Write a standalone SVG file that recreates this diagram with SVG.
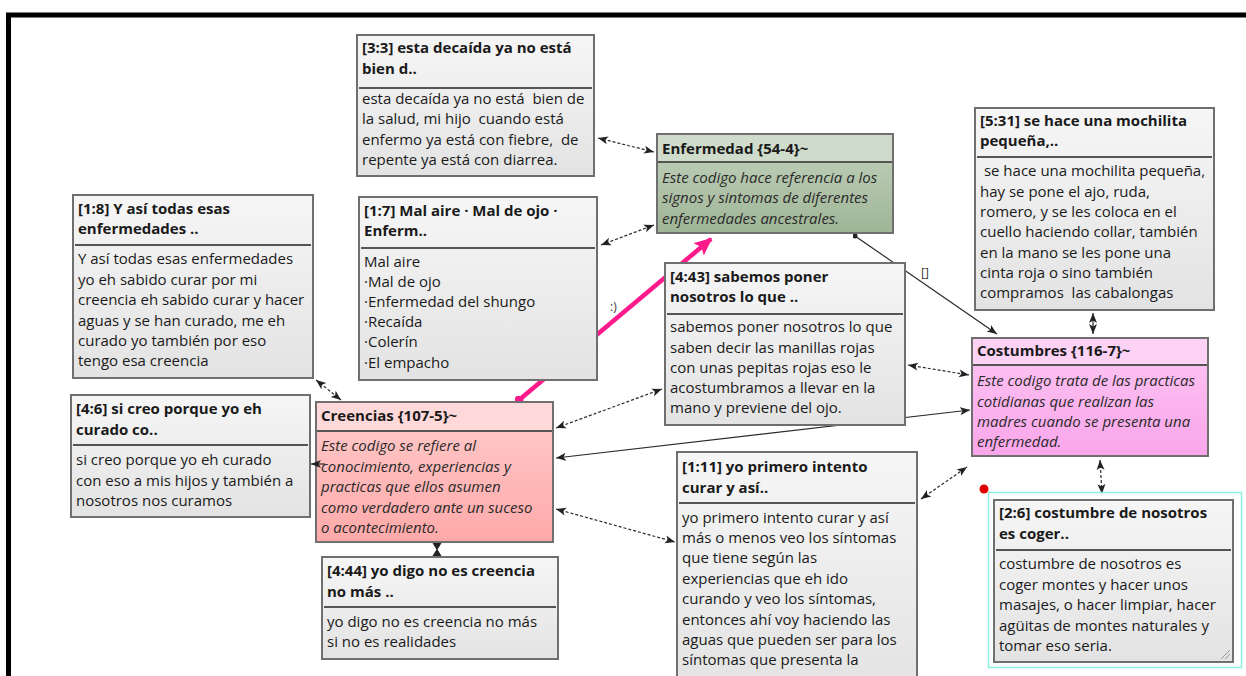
<svg xmlns="http://www.w3.org/2000/svg" width="1246" height="676" viewBox="0 0 1246 676" xml:space="preserve">
<defs>
<linearGradient id="gGray" x1="0" y1="0" x2="0" y2="1"><stop offset="0" stop-color="#f6f6f6"/><stop offset="1" stop-color="#e3e3e3"/></linearGradient>
<linearGradient id="gGreenB" x1="0" y1="0" x2="0" y2="1"><stop offset="0" stop-color="#c4d3bf"/><stop offset="1" stop-color="#9fb596"/></linearGradient>
<linearGradient id="gPinkB" x1="0" y1="0" x2="0" y2="1"><stop offset="0" stop-color="#ffcccc"/><stop offset="1" stop-color="#ffa9a9"/></linearGradient>
<linearGradient id="gMagB" x1="0" y1="0" x2="0" y2="1"><stop offset="0" stop-color="#fdc6f3"/><stop offset="1" stop-color="#f9a6ea"/></linearGradient>
<marker id="ah" viewBox="0 0 10 10" refX="10" refY="5" markerWidth="10" markerHeight="10" markerUnits="userSpaceOnUse" orient="auto-start-reverse"><path d="M0,1 L10,5 L0,9 L2.5,5 Z" fill="#222"/></marker>
<marker id="ahp" viewBox="0 0 10 10" refX="9" refY="5" markerWidth="18" markerHeight="18" markerUnits="userSpaceOnUse" orient="auto"><path d="M0,0.5 L10,5 L0,9.5 L2,5 Z" fill="#ff1a8c"/></marker>
<marker id="dotp" viewBox="0 0 10 10" refX="5" refY="5" markerWidth="9" markerHeight="9" markerUnits="userSpaceOnUse"><circle cx="5" cy="5" r="5" fill="#ff1a8c"/></marker>
<marker id="dotk" viewBox="0 0 10 10" refX="5" refY="5" markerWidth="5" markerHeight="5" markerUnits="userSpaceOnUse"><circle cx="5" cy="5" r="5" fill="#222"/></marker>
</defs>
<style>
text{font-family:"Open Sans","Noto Sans","DejaVu Sans",sans-serif;font-size:15px;fill:#1a1a1a;white-space:pre}
.h{font-weight:bold}
.i{font-style:italic;fill:#2a2a2a}
.box{stroke:#6f6f6f;stroke-width:2}
.sep{stroke:#555;stroke-width:2}
.c{fill:none;stroke:#2a2a2a;stroke-width:1.2}
.d{stroke-dasharray:3 2}
.lbl{font-size:12px;fill:#333}
</style>
<rect width="1246" height="676" fill="#fff"/>
<path d="M8.5 676 V15 H1246" fill="none" stroke="#000" stroke-width="5"/>

<g id="connectors">
<line class="c d" x1="598" y1="138" x2="654" y2="152" marker-start="url(#ah)" marker-end="url(#ah)"/>
<line class="c d" x1="601" y1="245" x2="654" y2="225" marker-start="url(#ah)" marker-end="url(#ah)"/>
<line x1="519" y1="400" x2="711" y2="239" stroke="#ff1a8c" stroke-width="4.5" marker-start="url(#dotp)" marker-end="url(#ahp)"/>
<text class="lbl" x="610" y="311">:)</text>
<line class="c d" x1="316" y1="380" x2="341" y2="400" marker-start="url(#ah)" marker-end="url(#ah)"/>
<line class="c d" x1="556" y1="428" x2="662" y2="389" marker-start="url(#ah)" marker-end="url(#ah)"/>
<line class="c" x1="556" y1="458" x2="970" y2="410" marker-start="url(#ah)" marker-end="url(#ah)"/>
<line class="c d" x1="556" y1="509" x2="675" y2="542" marker-start="url(#ah)" marker-end="url(#ah)"/>
<line class="c d" x1="908" y1="365" x2="969" y2="375" marker-start="url(#ah)" marker-end="url(#ah)"/>
<line class="c d" x1="921" y1="499" x2="967" y2="467" marker-start="url(#ah)" marker-end="url(#ah)"/>
<line class="c d" x1="1100" y1="460" x2="1102" y2="494" marker-start="url(#ah)" marker-end="url(#ah)"/>
<line class="c" x1="1093" y1="313" x2="1093" y2="334" marker-start="url(#ah)" marker-end="url(#ah)"/>
<path d="M433 543 H441 L437 549.5 L441 556 H433 L437 549.5 Z" fill="#222" stroke="#222" stroke-width="1"/>
<line class="c" x1="855" y1="236" x2="997" y2="334" marker-start="url(#dotk)" marker-end="url(#ah)"/>
<text class="lbl" x="921" y="277">[]</text>
</g>

<g id="n33">
<rect class="box" x="357" y="35" width="237" height="141" fill="url(#gGray)"/>
<line class="sep" x1="359" y1="88" x2="592" y2="88"/>
<text class="h" x="362" y="53">[3:3] esta decaída ya no está</text>
<text class="h" x="362" y="74">bien d..</text>
<text x="362" y="104">esta decaída ya no está  bien de</text>
<text x="362" y="124">la salud, mi hijo  cuando está</text>
<text x="362" y="145">enfermo ya está con fiebre,  de</text>
<text x="362" y="165">repente ya está con diarrea.</text>
</g>

<g id="enfermedad">
<rect class="box" x="657" y="134" width="236" height="99" fill="url(#gGreenB)"/>
<rect x="658" y="135" width="234" height="27" fill="#cfdccb"/>
<line class="sep" x1="658" y1="162" x2="892" y2="162"/>
<text class="h" x="662" y="154">Enfermedad {54-4}~</text>
<text class="i" x="662" y="183">Este codigo hace referencia a los</text>
<text class="i" x="662" y="203">signos y sintomas de diferentes</text>
<text class="i" x="662" y="224">enfermedades ancestrales.</text>
</g>

<g id="n531">
<rect class="box" x="975" y="108" width="239" height="202" fill="url(#gGray)"/>
<line class="sep" x1="977" y1="157" x2="1212" y2="157"/>
<text class="h" x="980" y="126">[5:31] se hace una mochilita</text>
<text class="h" x="980" y="146">pequeña,..</text>
<text x="980" y="176"> se hace una mochilita pequeña,</text>
<text x="980" y="197">hay se pone el ajo, ruda,</text>
<text x="980" y="217">romero, y se les coloca en el</text>
<text x="980" y="237">cuello haciendo collar, también</text>
<text x="980" y="258">en la mano se les pone una</text>
<text x="980" y="278">cinta roja o sino también</text>
<text x="980" y="298">compramos  las cabalongas</text>
</g>

<g id="n18">
<rect class="box" x="73" y="195" width="240" height="183" fill="url(#gGray)"/>
<line class="sep" x1="75" y1="245" x2="311" y2="245"/>
<text class="h" x="78" y="214">[1:8] Y así todas esas</text>
<text class="h" x="78" y="234">enfermedades ..</text>
<text x="78" y="264">Y así todas esas enfermedades</text>
<text x="78" y="285">yo eh sabido curar por mi</text>
<text x="78" y="305">creencia eh sabido curar y hacer</text>
<text x="78" y="326">aguas y se han curado, me eh</text>
<text x="78" y="346">curado yo también por eso</text>
<text x="78" y="366">tengo esa creencia</text>
</g>

<g id="n17">
<rect class="box" x="359" y="197" width="238" height="183" fill="url(#gGray)"/>
<line class="sep" x1="361" y1="248" x2="595" y2="248"/>
<text class="h" x="364" y="216">[1:7] Mal aire · Mal de ojo ·</text>
<text class="h" x="364" y="236">Enferm..</text>
<text x="364" y="267">Mal aire</text>
<text x="364" y="287">·Mal de ojo</text>
<text x="364" y="307">·Enfermedad del shungo</text>
<text x="364" y="327">·Recaída</text>
<text x="364" y="347">·Colerín</text>
<text x="364" y="368">·El empacho</text>
</g>

<g id="n443">
<rect class="box" x="665" y="263" width="240" height="162" fill="url(#gGray)"/>
<line class="sep" x1="667" y1="314" x2="903" y2="314"/>
<text class="h" x="670" y="282">[4:43] sabemos poner</text>
<text class="h" x="670" y="302">nosotros lo que ..</text>
<text x="670" y="332">sabemos poner nosotros lo que</text>
<text x="670" y="353">saben decir las manillas rojas</text>
<text x="670" y="373">con unas pepitas rojas eso le</text>
<text x="670" y="393">acostumbramos a llevar en la</text>
<text x="670" y="413">mano y previene del ojo.</text>
</g>

<g id="costumbres">
<rect class="box" x="972" y="338" width="236" height="118" fill="url(#gMagB)"/>
<rect x="973" y="339" width="234" height="26" fill="#fdd2f5"/>
<line class="sep" x1="973" y1="365" x2="1207" y2="365"/>
<text class="h" x="977" y="356">Costumbres {116-7}~</text>
<text class="i" x="977" y="386">Este codigo trata de las practicas</text>
<text class="i" x="977" y="407">cotidianas que realizan las</text>
<text class="i" x="977" y="427">madres cuando se presenta una</text>
<text class="i" x="977" y="447">enfermedad.</text>
</g>

<g id="n46">
<rect class="box" x="71" y="395" width="239" height="122" fill="url(#gGray)"/>
<line class="sep" x1="73" y1="445" x2="308" y2="445"/>
<text class="h" x="76" y="414">[4:6] si creo porque yo eh</text>
<text class="h" x="76" y="435">curado co..</text>
<text x="76" y="465">si creo porque yo eh curado</text>
<text x="76" y="486">con eso a mis hijos y también a</text>
<text x="76" y="506">nosotros nos curamos</text>
</g>

<g id="creencias">
<rect class="box" x="316" y="402" width="237" height="140" fill="url(#gPinkB)"/>
<rect x="317" y="403" width="235" height="27" fill="#ffd9d9"/>
<line class="sep" x1="317" y1="431" x2="552" y2="431"/>
<text class="h" x="321" y="421">Creencias {107-5}~</text>
<text class="i" x="321" y="451">Este codigo se refiere al</text>
<text class="i" x="321" y="472">conocimiento, experiencias y</text>
<text class="i" x="321" y="492">practicas que ellos asumen</text>
<text class="i" x="321" y="513">como verdadero ante un suceso</text>
<text class="i" x="321" y="533">o acontecimiento.</text>
</g>
<line class="c" x1="325" y1="464" x2="311" y2="464" marker-end="url(#ah)"/>

<g id="n444">
<rect class="box" x="322" y="557" width="236" height="102" fill="url(#gGray)"/>
<line class="sep" x1="324" y1="607" x2="556" y2="607"/>
<text class="h" x="327" y="576">[4:44] yo digo no es creencia</text>
<text class="h" x="327" y="597">no más ..</text>
<text x="327" y="627">yo digo no es creencia no más</text>
<text x="327" y="647">si no es realidades</text>
</g>

<g id="n111">
<rect class="box" x="677" y="452" width="240" height="240" fill="url(#gGray)"/>
<line class="sep" x1="679" y1="503" x2="915" y2="503"/>
<text class="h" x="682" y="472">[1:11] yo primero intento</text>
<text class="h" x="682" y="493">curar y así..</text>
<text x="682" y="523">yo primero intento curar y así</text>
<text x="682" y="543">más o menos veo los síntomas</text>
<text x="682" y="563">que tiene según las</text>
<text x="682" y="584">experiencias que eh ido</text>
<text x="682" y="604">curando y veo los síntomas,</text>
<text x="682" y="625">entonces ahí voy haciendo las</text>
<text x="682" y="645">aguas que pueden ser para los</text>
<text x="682" y="665">síntomas que presenta la</text>
</g>

<g id="n26">
<rect x="988.5" y="492.5" width="253" height="175" fill="none" stroke="#8ff0dc" stroke-width="1.5"/>
<rect class="box" x="994" y="500" width="239" height="162" fill="url(#gGray)"/>
<line class="sep" x1="996" y1="550" x2="1231" y2="550"/>
<text class="h" x="999" y="518">[2:6] costumbre de nosotros</text>
<text class="h" x="999" y="539">es coger..</text>
<text x="999" y="569">costumbre de nosotros es</text>
<text x="999" y="590">coger montes y hacer unos</text>
<text x="999" y="610">masajes, o hacer limpiar, hacer</text>
<text x="999" y="631">agüitas de montes naturales y</text>
<text x="999" y="651">tomar eso seria.</text>
<path d="M1230 650 L1221 659 M1230 654 L1225 659" stroke="#999" stroke-width="1"/>
</g>
<circle cx="984" cy="489" r="4.5" fill="#e00000"/>
</svg>
